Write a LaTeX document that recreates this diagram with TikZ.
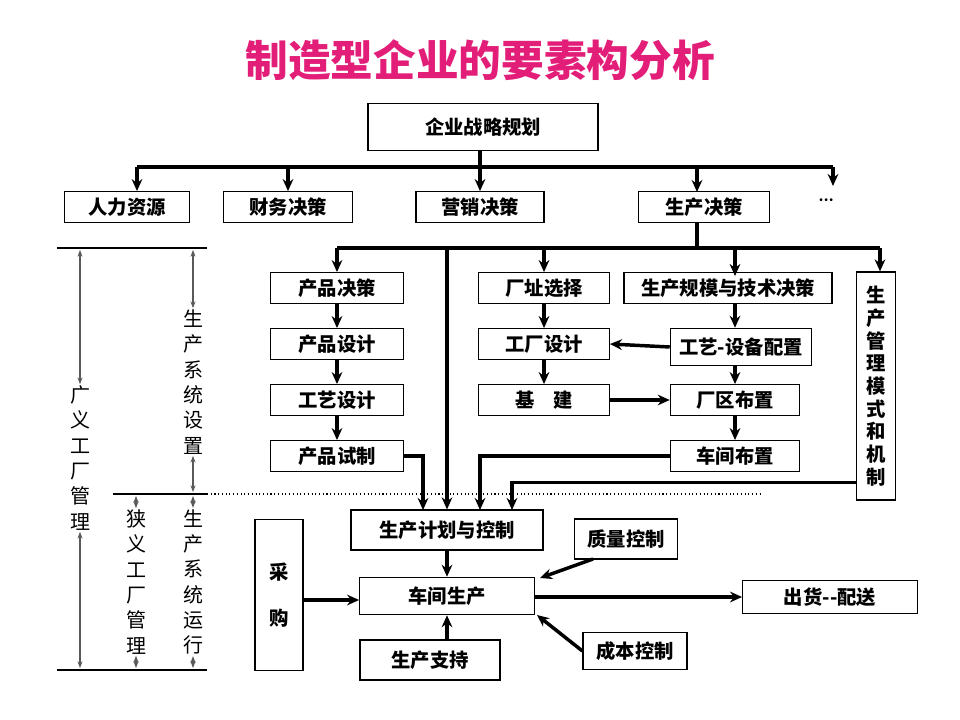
\documentclass[tikz,border=0pt]{standalone}
\usepackage{fontspec}
\setmainfont{Noto Sans CJK SC}
\usetikzlibrary{arrows.meta,positioning,calc}
\definecolor{titlepink}{RGB}{226,30,120}
\tikzset{
  box/.style={draw, line width=0.9pt, fill=white, inner sep=0pt, font=\bfseries\fontsize{14.5}{17}\selectfont},
  link/.style={line width=2.6pt, -{Stealth[length=9pt,width=8pt]}},
  bus/.style={line width=2.6pt},
  measure/.style={gray!70!black, line width=1pt, {Stealth[length=5pt]}-{Stealth[length=5pt]}},
  rule/.style={line width=0.8pt},
  side/.style={align=center, fill=white, inner sep=1pt, font=\fontsize{15}{19}\selectfont}
}
\begin{document}
\begin{tikzpicture}[x=0.75pt, y=-0.75pt]
    \useasboundingbox (0,0) rectangle (960,720);
    % Title
    \node[titlepink, font=\bfseries\fontsize{32}{36}\selectfont] (title) at (480,60) {制造型企业的要素构分析};

    % Top level
    \node[box, minimum width=172.5pt, minimum height=35pt] (plan) at (483,127) {企业战略规划};
    \node[box, minimum width=94pt, minimum height=23pt] (hr) at (127,207) {人力资源};
    \node[box, minimum width=97pt, minimum height=23pt] (fin) at (288,207) {财务决策};
    \node[box, minimum width=96pt, minimum height=23pt] (mkt) at (480,207) {营销决策};
    \node[box, minimum width=98pt, minimum height=23pt] (prod) at (704,207) {生产决策};
    \node[font=\bfseries] (more) at (826,200) {…};

    % Production system setup
    \node[box, minimum width=100pt, minimum height=23pt] (pdec) at (337,288) {产品决策};
    \node[box, minimum width=100pt, minimum height=23pt] (pdes) at (337,344) {产品设计};
    \node[box, minimum width=100pt, minimum height=23pt] (tdes) at (337,400) {工艺设计};
    \node[box, minimum width=100pt, minimum height=23pt] (trial) at (337,456) {产品试制};
    \node[box, minimum width=98pt, minimum height=23pt] (site) at (544,288) {厂址选择};
    \node[box, minimum width=98pt, minimum height=23pt] (fdes) at (544,344) {工厂设计};
    \node[box, minimum width=98pt, minimum height=23pt] (build) at (544,400) {基\quad 建};
    \node[box, minimum width=156pt, minimum height=23pt] (scale) at (728,288) {生产规模与技术决策};
    \node[box, minimum width=106pt, minimum height=28pt] (equip) at (741,347) {工艺-设备配置};
    \node[box, minimum width=97pt, minimum height=23pt] (area) at (735,400) {厂区布置};
    \node[box, minimum width=97pt, minimum height=23pt] (shop) at (735,456) {车间布置};
    \node[box, minimum width=29pt, minimum height=171pt, align=center] (mode) at (876,386) {生\\产\\管\\理\\模\\式\\和\\机\\制};

    % Production system running
    \node[box, minimum width=144pt, minimum height=30pt] (ctrl) at (447,530) {生产计划与控制};
    \node[box, minimum width=131pt, minimum height=28pt] (work) at (447,596) {车间生产};
    \node[box, minimum width=105pt, minimum height=30pt] (supp) at (430,660) {生产支持};
    \node[box, minimum width=77pt, minimum height=30pt] (qual) at (626,539) {质量控制};
    \node[box, minimum width=78pt, minimum height=28pt] (cost) at (635,651) {成本控制};
    \node[box, minimum width=36pt, minimum height=113pt, align=center] (buy) at (279,595) {采\\[18pt]购};
    \node[box, minimum width=131pt, minimum height=25pt] (ship) at (830,597) {出货{-}{-}配送};

    % Buses and branches
    \coordinate (busA) at (137,167);
    \coordinate (busB) at (833,167);
    \coordinate (busC) at (337,248);
    \coordinate (busD) at (880,248);
    \draw[bus] (busA) -- (busB);
    \draw[bus] (480,151) -- (480,167);
    \draw[link] (480,167) -- (mkt.north);
    \draw[link] (busA) -- (busA |- hr.north);
    \draw[link] (fin.north |- busA) -- (fin.north);
    \draw[link] (697,167) -- (697,192);
    \draw[link] (busB) -- (833,186);
    \draw[bus] (697,223) -- (697,248);
    \draw[bus] (busC) -- (busD);
    \draw[link] (busC) -- (pdec.north);
    \draw[link] (447,248) -- (ctrl.north -| 447,0);
    \draw[link] (544,248) -- (site.north);
    \draw[link] (735,248) -- (735,276);
    \draw[link] (busD) -- (mode.north -| busD);

    % Chains
    \draw[link] (pdec) -- (pdes);
    \draw[link] (pdes) -- (tdes);
    \draw[link] (tdes) -- (trial);
    \draw[link] (site) -- (fdes);
    \draw[link] (fdes) -- (build);
    \draw[link] (scale.south -| 735,0) -- (equip.north -| 735,0);
    \draw[link] (equip.south -| 735,0) -- (area.north -| 735,0);
    \draw[link] (area) -- (shop);
    \draw[link] (equip.west) -- (fdes.east);
    \draw[link] (build.east) -- (area.west);

    % Into planning and control
    \draw[link] (trial.east) -| (423,510);
    \draw[link] (shop.west) -| (480,510);
    \draw[link] (mode.south west) ++(0,-18) -| (512,510);
    \draw[link] (ctrl) -- (work);
    \draw[link] (supp.north -| 447,0) -- (work.south -| 447,0);
    \draw[link] (593,559) -- (540,578);
    \draw[link] (cost.west) -- (537,615);
    \draw[link] (buy.east |- 0,600) -- (work.west |- 0,600);
    \draw[link] (work.east |- 0,597) -- (ship.west |- 0,597);

    % Left scale
    \draw[rule] (57,248) -- (207,248);
    \draw[rule] (57,670) -- (207,670);
    \draw[rule] (113,494) -- (207,494);
    \draw[dotted, line width=0.8pt] (207,494) -- (760,494);
    \node[side] (wide) at (80,458) {广\\义\\工\\厂\\管\\理};
    \node[side] (setup) at (193,382) {生\\产\\系\\统\\设\\置};
    \node[side] (narrow) at (136,582) {狭\\义\\工\\厂\\管\\理};
    \node[side] (run) at (193,582) {生\\产\\系\\统\\运\\行};
    \draw[measure] (80,250) -- (wide.north);
    \draw[measure] (wide.south) -- (80,668);
    \draw[measure] (193,250) -- (setup.north);
    \draw[measure] (setup.south) -- (193,492);
    \draw[measure] (136,496) -- (narrow.north);
    \draw[measure] (narrow.south) -- (136,668);
    \draw[measure] (193,496) -- (run.north);
    \draw[measure] (run.south) -- (193,668);
\end{tikzpicture}
\end{document}
